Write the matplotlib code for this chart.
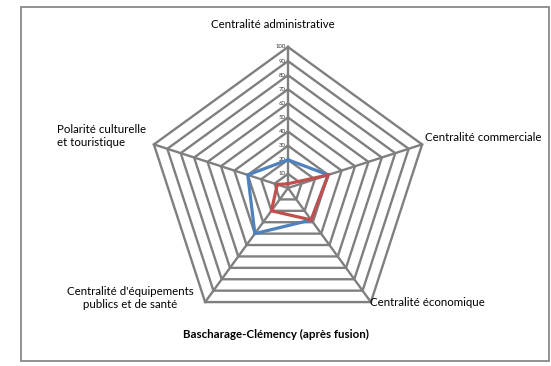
import numpy as np
import matplotlib
matplotlib.use('Agg')
import matplotlib.pyplot as plt
from matplotlib.patches import Rectangle

plt.rcParams['font.family'] = ['Lato', 'DejaVu Sans']

# axes of the radar, clockwise from the top
axes_labels = ['Centralité administrative', 'Centralité commerciale', 'Centralité économique',
               "Centralité d'équipements\npublics et de santé", 'Polarité culturelle\net touristique']
ticks = [10, 20, 30, 40, 50, 60, 70, 80, 90, 100]
blue_values = [20, 30, 28, 40, 30]
red_values = [3, 30, 28, 20, 8]
title = 'Bascharage-Clémency (après fusion)'

W, H = 551, 366
cx, cy = 288, 188          # centre in pixels
scale = 1.41               # pixels per unit

fig = plt.figure(figsize=(W / 100, H / 100), dpi=100)
ax = fig.add_axes([0, 0, 1, 1])
ax.set_xlim(-cx / scale, (W - cx) / scale)
ax.set_ylim(-(H - cy) / scale, cy / scale)
ax.axis('off')

n = len(axes_labels)
theta = np.arange(n) * 2 * np.pi / n


def to_xy(vals):
    vals = np.asarray(vals, dtype=float)
    x = vals * np.sin(theta)
    y = vals * np.cos(theta)
    return np.append(x, x[0]), np.append(y, y[0])


grid_col = '#7f7f7f'
for t in ticks:
    gx, gy = to_xy([t] * n)
    ax.plot(gx, gy, color=grid_col, lw=1.7, solid_joinstyle='miter', zorder=1)
for th in theta:
    ax.plot([0, 100 * np.sin(th)], [0, 100 * np.cos(th)], color=grid_col, lw=1.7, zorder=1)

for t in ticks:
    ax.text(-1.5, t, str(t), fontsize=4.3, ha='right', va='center', color='#333333', zorder=2)

bx, by = to_xy(blue_values)
ax.plot(bx, by, color='#4F81BD', lw=2.3, solid_joinstyle='miter', zorder=3)
rx, ry = to_xy(red_values)
ax.plot(rx, ry, color='#C0504D', lw=2.3, solid_joinstyle='miter', zorder=4)

# category labels (pixel positions)
def px(x, y):
    return ((x - cx) / scale, (cy - y) / scale)

fs = 8.3
ax.text(*px(273, 25), axes_labels[0], fontsize=fs, ha='center', va='center')
ax.text(*px(425, 138), axes_labels[1], fontsize=fs, ha='left', va='center')
ax.text(*px(370, 303), axes_labels[2], fontsize=fs, ha='left', va='center')
ax.text(*px(130, 298), axes_labels[3], fontsize=fs, ha='center', va='center', linespacing=1.3)
ax.text(*px(57, 136), axes_labels[4], fontsize=fs, ha='left', va='center', linespacing=1.3)
ax.text(*px(276, 334), title, fontsize=8.3, fontweight='bold', ha='center', va='center')

fig.patches.append(Rectangle((21 / W, 1 - 361 / H), (549 - 21) / W, (361 - 7) / H,
                             transform=fig.transFigure, fill=False,
                             edgecolor='#7f7f7f', lw=1.2))

fig.savefig('out.png', dpi=100)
